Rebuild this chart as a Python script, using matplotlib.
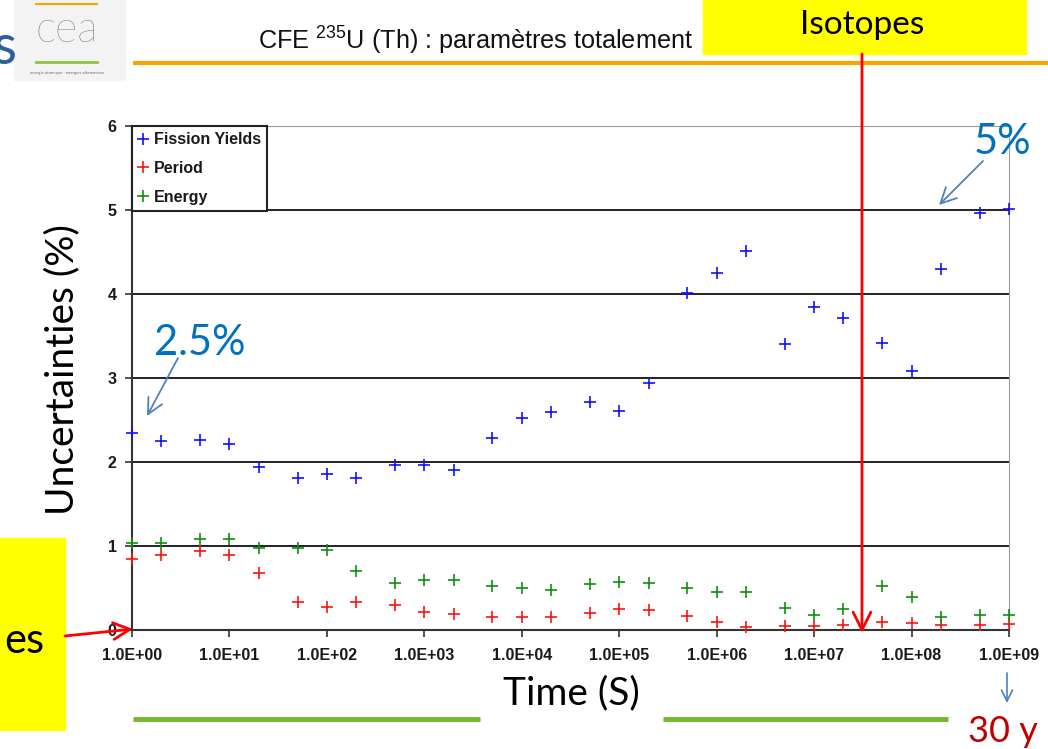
import matplotlib
matplotlib.use("Agg")
import matplotlib.pyplot as plt
from matplotlib.patches import Rectangle
from matplotlib.ticker import FixedLocator, FuncFormatter, NullLocator

plt.rcParams["mathtext.fontset"] = "custom"
plt.rcParams["mathtext.rm"] = "Liberation Sans"

# --- data (time in s, uncertainty in %) ---
times = [1, 2, 5, 1e1, 2e1, 5e1, 1e2, 2e2, 5e2, 1e3, 2e3, 5e3, 1e4, 2e4,
         5e4, 1e5, 2e5, 5e5, 1e6, 2e6, 5e6, 1e7, 2e7, 5e7, 1e8, 2e8, 5e8, 1e9]
fission_yields = [2.35, 2.25, 2.26, 2.21, 1.94, 1.81, 1.86, 1.81, 1.96, 1.96,
                  1.91, 2.28, 2.52, 2.59, 2.71, 2.61, 2.94, 4.01, 4.25, 4.51,
                  3.40, 3.85, 3.71, 3.42, 3.08, 4.30, 4.97, 5.01]
period = [0.84, 0.89, 0.94, 0.89, 0.68, 0.33, 0.27, 0.33, 0.30, 0.22,
          0.19, 0.15, 0.15, 0.16, 0.20, 0.25, 0.24, 0.17, 0.09, 0.03,
          0.05, 0.05, 0.06, 0.10, 0.08, 0.06, 0.06, 0.07]
energy = [1.04, 1.04, 1.08, 1.08, 0.98, 0.98, 0.95, 0.70, 0.56, 0.60,
          0.59, 0.52, 0.50, 0.48, 0.55, 0.57, 0.56, 0.50, 0.45, 0.45,
          0.26, 0.18, 0.25, 0.52, 0.39, 0.16, 0.18, 0.18]
series_names = ["Fission Yields", "Period", "Energy"]
x_ticks = [1e0, 1e1, 1e2, 1e3, 1e4, 1e5, 1e6, 1e7, 1e8, 1e9]
y_ticks = [0, 1, 2, 3, 4, 5, 6]

W, H = 1048, 749
fig = plt.figure(figsize=(W / 100, H / 100), dpi=100)
fig.patch.set_facecolor("white")

# main chart area (pixel box converted to figure fractions)
left, right, top, bottom = 132, 1009, 126, 630
ax = fig.add_axes([left / W, (H - bottom) / H, (right - left) / W, (bottom - top) / H])

colors = ["#1010ff", "#ff1010", "#109010"]
for vals, name, c in zip([fission_yields, period, energy], series_names, colors):
    ax.plot(times, vals, linestyle="none", marker="+", markersize=9,
            markeredgewidth=1.2, color=c, label=name, clip_on=False, zorder=3)

ax.set_xscale("log")
ax.set_xlim(1, 1e9)
ax.set_ylim(0, 6)
ax.xaxis.set_major_locator(FixedLocator(x_ticks))
ax.xaxis.set_minor_locator(NullLocator())
ax.xaxis.set_major_formatter(FuncFormatter(lambda v, p: f"{v:.1E}"))
ax.yaxis.set_major_locator(FixedLocator(y_ticks))
ax.yaxis.set_major_formatter(FuncFormatter(lambda v, p: f"{v:g}"))

tick_font = dict(family="Liberation Sans", weight="bold", size=11.5)
for lab in ax.get_xticklabels() + ax.get_yticklabels():
    lab.set_fontproperties(matplotlib.font_manager.FontProperties(**tick_font))
    lab.set_color("#1a1a1a")
ax.tick_params(axis="x", length=5, width=1.2, color="#333333", pad=8)
ax.tick_params(axis="y", length=5, width=1.2, color="#333333", pad=6)

ax.grid(axis="y", color="#222222", linewidth=1.4)
ax.grid(axis="x", visible=False)
ax.set_axisbelow(True)
ax.spines["left"].set_color("#333333")
ax.spines["left"].set_linewidth(1.5)
ax.spines["bottom"].set_color("#333333")
ax.spines["bottom"].set_linewidth(1.5)
ax.spines["top"].set_color("#999999")
ax.spines["right"].set_color("#999999")

leg = ax.legend(loc="upper left", borderaxespad=0, frameon=True, fancybox=False,
                edgecolor="#222222", framealpha=1, handlelength=0.6,
                handletextpad=0.35, labelspacing=0.85, borderpad=0.4,
                prop=dict(family="Liberation Sans", weight="bold", size=11.5))
leg.get_frame().set_linewidth(1.5)
for t in leg.get_texts():
    t.set_color("#1a1a1a")

# --- slide overlay (pixel coordinates) ---
ov = fig.add_axes([0, 0, 1, 1], zorder=10)
ov.set_xlim(0, W)
ov.set_ylim(H, 0)
ov.axis("off")

# cea logo block
ov.add_patch(Rectangle((14, 0), 111, 80, color="#f3f3f3", zorder=1))
ov.plot([36, 97], [4, 4], color="#f7a600", lw=1.5, zorder=2)
ov.plot([36, 97], [62, 62], color="#8cc63f", lw=2, zorder=2)
ov.text(67, 31, "cea", ha="center", va="center", fontsize=31, color="#5e5e5e",
        family="Lato", weight="light", zorder=2)
ov.text(67, 73, "énergie atomique · énergies alternatives", ha="center", va="center",
        fontsize=2.6, color="#666666", zorder=2)
ov.text(16, 64, "s", ha="right", va="baseline", fontsize=40, color="#2e5f99", family="Lato")

# title and orange rule
ov.text(258, 41, r"CFE $\mathregular{^{235}}$U (Th) : paramètres totalement",
        ha="left", va="center", fontsize=18.2, family="Liberation Sans", color="#111111")
ov.plot([133, W], [63, 63], color="#f7a600", lw=3, solid_capstyle="butt")

# "Isotopes" yellow box with red arrow
ov.add_patch(Rectangle((703, 0), 323, 54, color="#ffff00", zorder=3))
ov.text(862, 25, "Isotopes", ha="center", va="center", fontsize=24, family="Lato", zorder=4)
ov.annotate("", xy=(862, 633), xytext=(862, 54),
            arrowprops=dict(arrowstyle="->", color="#ff0000", lw=2, mutation_scale=32,
                            shrinkA=0, shrinkB=0))

# left yellow box with red arrow
ov.add_patch(Rectangle((0, 538), 65, 192, color="#ffff00", zorder=3))
ov.text(44, 653, "es", ha="right", va="baseline", fontsize=30, family="Lato", zorder=4)
ov.annotate("", xy=(133, 629), xytext=(65, 636),
            arrowprops=dict(arrowstyle="->", color="#ff0000", lw=2, mutation_scale=30,
                            shrinkA=0, shrinkB=0))

# value call-outs
ov.text(154, 355, "2.5%", ha="left", va="baseline", fontsize=30, family="Lato", color="#0070c0")
ov.annotate("", xy=(147, 416), xytext=(178, 358),
            arrowprops=dict(arrowstyle="->", color="#4f81bd", lw=1.3, mutation_scale=28,
                            shrinkA=0, shrinkB=0))
ov.text(974, 154, "5%", ha="left", va="baseline", fontsize=30, family="Lato", color="#0070c0")
ov.annotate("", xy=(939, 205), xytext=(983, 161),
            arrowprops=dict(arrowstyle="->", color="#4f81bd", lw=1.3, mutation_scale=28,
                            shrinkA=0, shrinkB=0))

# axis titles
ov.text(62, 370, "Uncertainties (%)", rotation=90, ha="center", va="center",
        fontsize=28, family="Lato", color="black")
ov.text(571, 693, "Time (S)", ha="center", va="center", fontsize=28, family="Lato", color="black")

# bottom rules and 30 y marker
ov.plot([133, 480], [719, 719], color="#76b82a", lw=3.5, solid_capstyle="butt")
ov.plot([663, 948], [719, 719], color="#76b82a", lw=3.5, solid_capstyle="butt")
ov.annotate("", xy=(1007, 703), xytext=(1007, 673),
            arrowprops=dict(arrowstyle="->", color="#4f81bd", lw=1.2, mutation_scale=20,
                            shrinkA=0, shrinkB=0))
ov.text(968, 742, "30 y", ha="left", va="baseline", fontsize=26, family="Lato", color="#c00000")

fig.savefig("out.png", dpi=100)
